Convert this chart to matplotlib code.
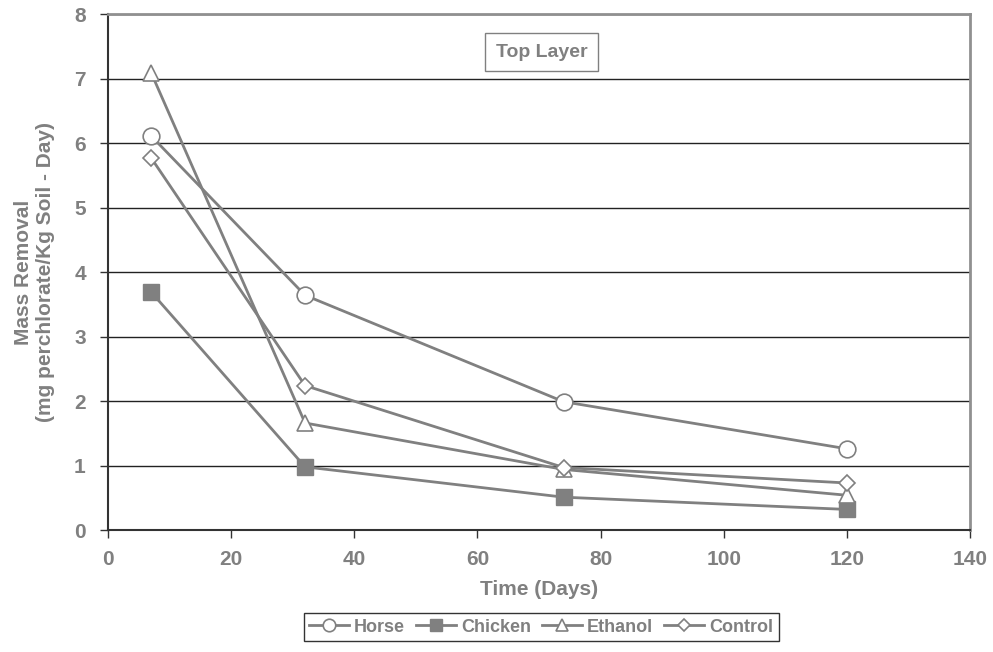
import matplotlib
matplotlib.use("Agg")
import matplotlib.pyplot as plt

plt.rcParams['font.family'] = ['Liberation Sans', 'DejaVu Sans']
plt.rcParams['font.weight'] = 'bold'

days = [7, 32, 74, 120]
horse = [6.11, 3.64, 1.99, 1.26]
chicken = [3.69, 0.98, 0.51, 0.32]
ethanol = [7.09, 1.66, 0.94, 0.54]
control = [5.77, 2.24, 0.97, 0.73]

gray = '#808080'

fig = plt.figure(figsize=(9.93, 6.52), dpi=100)
ax = fig.add_axes([0.1088, 0.187, 0.868, 0.7915])

ax.plot(days, horse, color=gray, lw=2, marker='o', ms=12,
        mfc='white', mec=gray, mew=1.2, label='Horse')
ax.plot(days, chicken, color=gray, lw=2, marker='s', ms=11,
        mfc=gray, mec=gray, label='Chicken')
ax.plot(days, ethanol, color=gray, lw=2, marker='^', ms=12,
        mfc='white', mec=gray, mew=1.2, label='Ethanol')
ax.plot(days, control, color=gray, lw=2, marker='D', ms=8,
        mfc='white', mec=gray, mew=1.2, label='Control')

ax.set_xlim(0, 140)
ax.set_ylim(0, 8)
ax.set_xticks(range(0, 141, 20))
ax.set_yticks(range(0, 9))
ax.yaxis.grid(True, color='#222222', lw=1)
ax.set_axisbelow(True)

# grey frame on top/right, dark axes on left/bottom
for s in ['top', 'right']:
    ax.spines[s].set_color('#909090')
    ax.spines[s].set_linewidth(2)
for s in ['left', 'bottom']:
    ax.spines[s].set_color('#333333')
    ax.spines[s].set_linewidth(1.5)
ax.spines['top'].set_zorder(3)

ax.tick_params(axis='both', colors='#333333', labelcolor=gray,
               labelsize=15, length=6, width=1)
ax.tick_params(axis='y', pad=10)
ax.tick_params(axis='x', pad=8)
for lbl in ax.get_xticklabels() + ax.get_yticklabels():
    lbl.set_fontweight('heavy')

ax.set_xlabel('Time (Days)', fontsize=15, color=gray, fontweight='bold', labelpad=8)
ax.set_ylabel('Mass Removal\n(mg perchlorate/Kg Soil - Day)', fontsize=15,
              color=gray, fontweight='bold', labelpad=14)

ax.text(0.503, 0.926, 'Top Layer', transform=ax.transAxes, ha='center', va='center',
        fontsize=14, color=gray, fontweight='bold',
        bbox=dict(boxstyle='square,pad=0.55', fc='white', ec=gray, lw=1))

leg = fig.legend(loc='lower center', bbox_to_anchor=(0.545, 0.003), ncol=4,
                 frameon=True, fancybox=False, edgecolor='black', fontsize=13,
                 handlelength=2.2, columnspacing=0.6, handletextpad=0.3,
                 borderpad=0.3, markerscale=0.75)
leg.get_frame().set_linewidth(1)
for t in leg.get_texts():
    t.set_color(gray)
    t.set_fontweight('bold')

fig.savefig('out.png', dpi=100)
